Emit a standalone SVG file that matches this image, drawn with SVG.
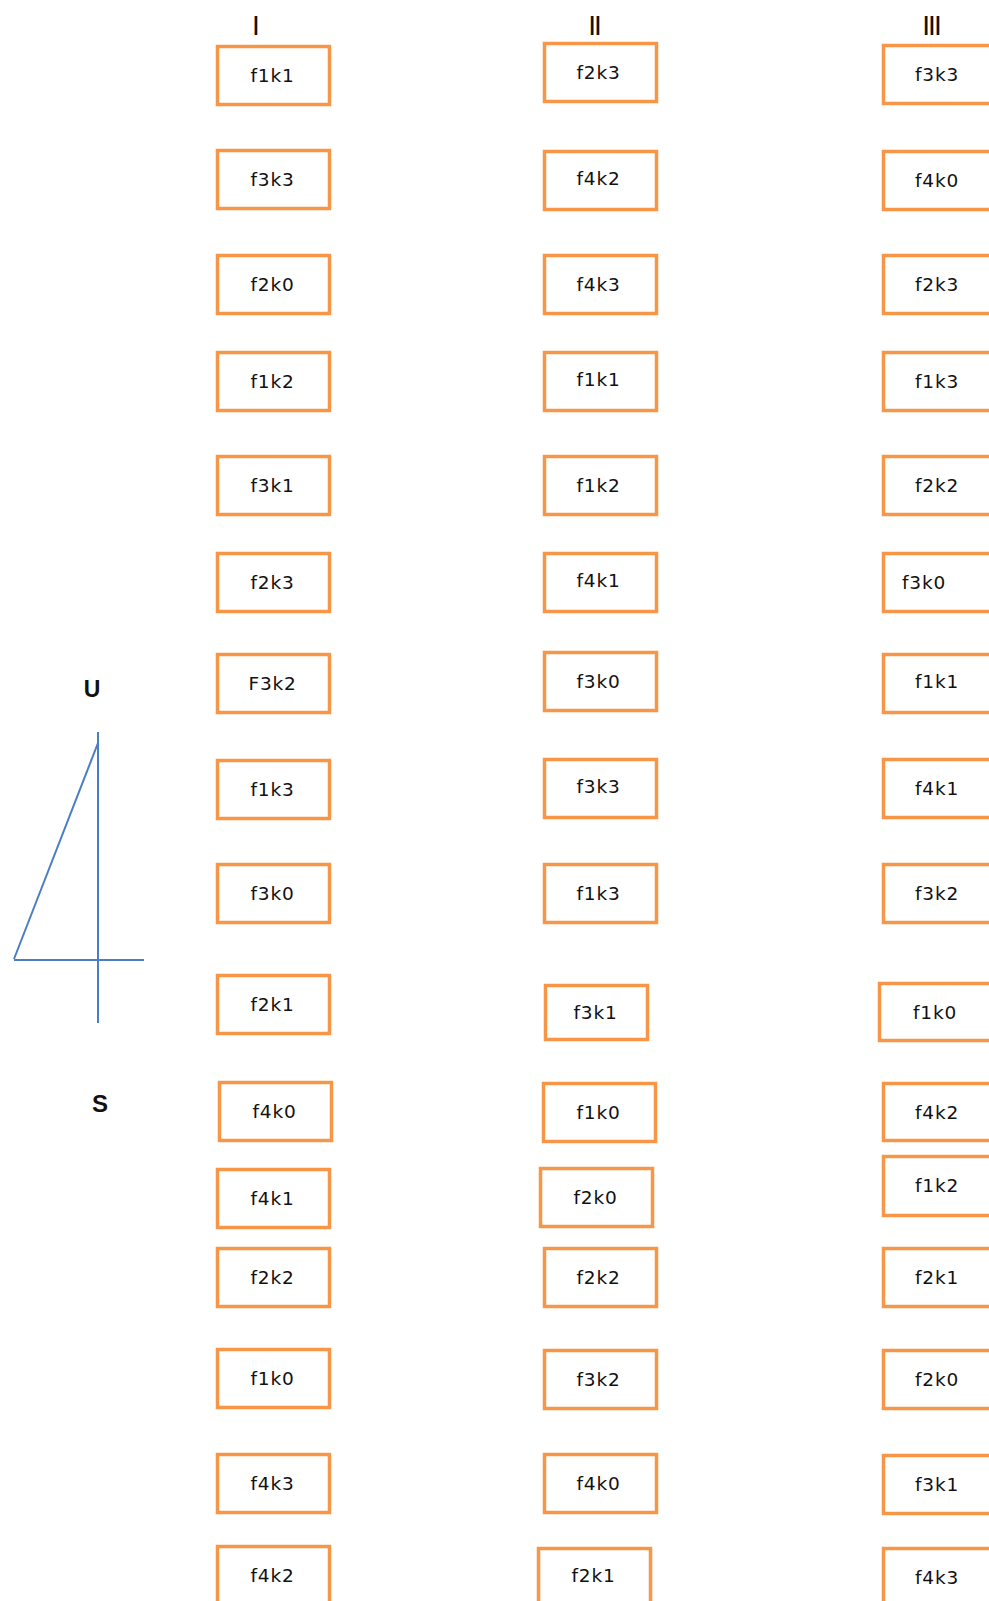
<svg xmlns="http://www.w3.org/2000/svg" width="989" height="1601" viewBox="0 0 989 1601">
<style>
.b rect{fill:#fff;stroke:#f79646;stroke-width:3.5}
.b text{font-family:"DejaVu Sans",sans-serif;font-size:18.5px;fill:#111;text-anchor:middle;letter-spacing:0.8px}
.h{font-family:"Liberation Sans",sans-serif;font-size:28px;fill:#111;text-anchor:middle;letter-spacing:-2px}
.l{font-family:"Liberation Sans",sans-serif;font-weight:bold;fill:#111;text-anchor:middle}
.c line{stroke:#4a7ec4;stroke-width:2;fill:none}
</style>
<rect width="989" height="1601" fill="#fff"/>
<text class="h" x="255" y="35">I</text>
<text class="h" x="594" y="35">II</text>
<text class="h" x="931" y="35">III</text>
<text class="l" x="92" y="697" font-size="23">U</text>
<text class="l" x="100" y="1112" font-size="24">S</text>
<g id="connectors" class="c">
<line x1="98" y1="732" x2="98" y2="1023"/>
<line x1="98" y1="743" x2="14" y2="959"/>
<line x1="14" y1="960" x2="144" y2="960"/>
</g>
<g class="b">
<g id="c1n1"><rect x="217.5" y="46.5" width="112" height="58"/><text x="272.5" y="82">f1k1</text></g>
<g id="c1n2"><rect x="217.5" y="150.5" width="112" height="58"/><text x="272.5" y="186">f3k3</text></g>
<g id="c1n3"><rect x="217.5" y="255.5" width="112" height="58"/><text x="272.5" y="291">f2k0</text></g>
<g id="c1n4"><rect x="217.5" y="352.5" width="112" height="58"/><text x="272.5" y="388">f1k2</text></g>
<g id="c1n5"><rect x="217.5" y="456.5" width="112" height="58"/><text x="272.5" y="492">f3k1</text></g>
<g id="c1n6"><rect x="217.5" y="553.5" width="112" height="58"/><text x="272.5" y="589">f2k3</text></g>
<g id="c1n7"><rect x="217.5" y="654.5" width="112" height="58"/><text x="272.5" y="690">F3k2</text></g>
<g id="c1n8"><rect x="217.5" y="760.5" width="112" height="58"/><text x="272.5" y="796">f1k3</text></g>
<g id="c1n9"><rect x="217.5" y="864.5" width="112" height="58"/><text x="272.5" y="900">f3k0</text></g>
<g id="c1n10"><rect x="217.5" y="975.5" width="112" height="58"/><text x="272.5" y="1011">f2k1</text></g>
<g id="c1n11"><rect x="219.5" y="1082.5" width="112" height="58"/><text x="274.5" y="1118">f4k0</text></g>
<g id="c1n12"><rect x="217.5" y="1169.5" width="112" height="58"/><text x="272.5" y="1205">f4k1</text></g>
<g id="c1n13"><rect x="217.5" y="1248.5" width="112" height="58"/><text x="272.5" y="1284">f2k2</text></g>
<g id="c1n14"><rect x="217.5" y="1349.5" width="112" height="58"/><text x="272.5" y="1385">f1k0</text></g>
<g id="c1n15"><rect x="217.5" y="1454.5" width="112" height="58"/><text x="272.5" y="1490">f4k3</text></g>
<g id="c1n16"><rect x="217.5" y="1546.5" width="112" height="58"/><text x="272.5" y="1582">f4k2</text></g>

<g id="c2n1"><rect x="544.5" y="43.5" width="112" height="58"/><text x="598.5" y="79">f2k3</text></g>
<g id="c2n2"><rect x="544.5" y="151.5" width="112" height="58"/><text x="598.5" y="185">f4k2</text></g>
<g id="c2n3"><rect x="544.5" y="255.5" width="112" height="58"/><text x="598.5" y="291">f4k3</text></g>
<g id="c2n4"><rect x="544.5" y="352.5" width="112" height="58"/><text x="598.5" y="386">f1k1</text></g>
<g id="c2n5"><rect x="544.5" y="456.5" width="112" height="58"/><text x="598.5" y="492">f1k2</text></g>
<g id="c2n6"><rect x="544.5" y="553.5" width="112" height="58"/><text x="598.5" y="587">f4k1</text></g>
<g id="c2n7"><rect x="544.5" y="652.5" width="112" height="58"/><text x="598.5" y="688">f3k0</text></g>
<g id="c2n8"><rect x="544.5" y="759.5" width="112" height="58"/><text x="598.5" y="793">f3k3</text></g>
<g id="c2n9"><rect x="544.5" y="864.5" width="112" height="58"/><text x="598.5" y="900">f1k3</text></g>
<g id="c2n10"><rect x="545.5" y="985.5" width="102" height="54"/><text x="595.5" y="1019">f3k1</text></g>
<g id="c2n11"><rect x="543.5" y="1083.5" width="112" height="58"/><text x="598.5" y="1119">f1k0</text></g>
<g id="c2n12"><rect x="540.5" y="1168.5" width="112" height="58"/><text x="595.5" y="1204">f2k0</text></g>
<g id="c2n13"><rect x="544.5" y="1248.5" width="112" height="58"/><text x="598.5" y="1284">f2k2</text></g>
<g id="c2n14"><rect x="544.5" y="1350.5" width="112" height="58"/><text x="598.5" y="1386">f3k2</text></g>
<g id="c2n15"><rect x="544.5" y="1454.5" width="112" height="58"/><text x="598.5" y="1490">f4k0</text></g>
<g id="c2n16"><rect x="538.5" y="1548.5" width="112" height="58"/><text x="593.5" y="1582">f2k1</text></g>

<g id="c3n1"><rect x="883.5" y="45.5" width="112" height="58"/><text x="937" y="81">f3k3</text></g>
<g id="c3n2"><rect x="883.5" y="151.5" width="112" height="58"/><text x="937" y="187">f4k0</text></g>
<g id="c3n3"><rect x="883.5" y="255.5" width="112" height="58"/><text x="937" y="291">f2k3</text></g>
<g id="c3n4"><rect x="883.5" y="352.5" width="112" height="58"/><text x="937" y="388">f1k3</text></g>
<g id="c3n5"><rect x="883.5" y="456.5" width="112" height="58"/><text x="937" y="492">f2k2</text></g>
<g id="c3n6"><rect x="883.5" y="553.5" width="112" height="58"/><text x="924" y="589">f3k0</text></g>
<g id="c3n7"><rect x="883.5" y="654.5" width="112" height="58"/><text x="937" y="688">f1k1</text></g>
<g id="c3n8"><rect x="883.5" y="759.5" width="112" height="58"/><text x="937" y="795">f4k1</text></g>
<g id="c3n9"><rect x="883.5" y="864.5" width="112" height="58"/><text x="937" y="900">f3k2</text></g>
<g id="c3n10"><rect x="879.5" y="983.5" width="112" height="57"/><text x="935" y="1019">f1k0</text></g>
<g id="c3n11"><rect x="883.5" y="1083.5" width="112" height="57"/><text x="937" y="1119">f4k2</text></g>
<g id="c3n12"><rect x="883.5" y="1156.5" width="112" height="59"/><text x="937" y="1192">f1k2</text></g>
<g id="c3n13"><rect x="883.5" y="1248.5" width="112" height="58"/><text x="937" y="1284">f2k1</text></g>
<g id="c3n14"><rect x="883.5" y="1350.5" width="112" height="58"/><text x="937" y="1386">f2k0</text></g>
<g id="c3n15"><rect x="883.5" y="1455.5" width="112" height="58"/><text x="937" y="1491">f3k1</text></g>
<g id="c3n16"><rect x="883.5" y="1548.5" width="112" height="58"/><text x="937" y="1584">f4k3</text></g>
</g>
</svg>
